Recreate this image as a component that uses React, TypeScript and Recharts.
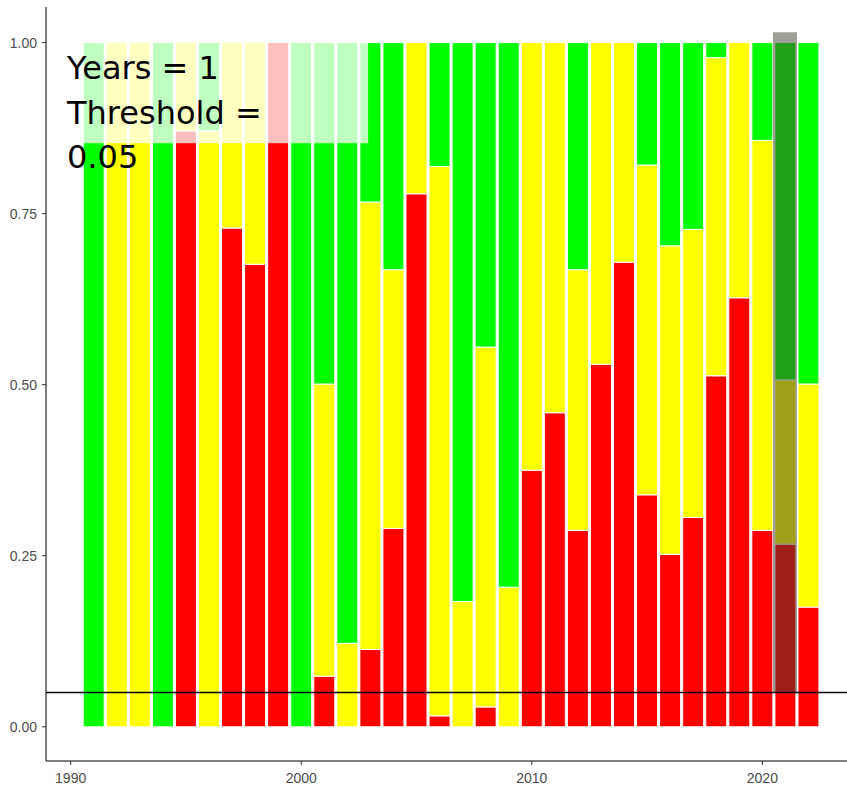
import React from 'react'
import {
  ComposedChart,
  Bar,
  XAxis,
  YAxis,
  ReferenceLine,
  ReferenceArea,
} from 'recharts'

const years = [
  1991, 1992, 1993, 1994, 1995, 1996, 1997, 1998, 1999, 2000, 2001, 2002, 2003, 2004, 2005, 2006,
  2007, 2008, 2009, 2010, 2011, 2012, 2013, 2014, 2015, 2016, 2017, 2018, 2019, 2020, 2021, 2022,
]

const redShare = [
  0, 0, 0, 0, 0.871, 0, 0.729, 0.676, 1, 0, 0.074, 0, 0.113, 0.29, 0.779, 0.016,
  0, 0.029, 0, 0.375, 0.459, 0.287, 0.53, 0.679, 0.339, 0.252, 0.306, 0.513, 0.627, 0.287, 0.267, 0.175,
]

const yellowShare = [
  0, 1, 1, 0, 0.129, 0.871, 0.271, 0.324, 0, 0, 0.427, 0.122, 0.654, 0.378, 0.221, 0.803,
  0.183, 0.526, 0.204, 0.625, 0.541, 0.381, 0.47, 0.321, 0.482, 0.451, 0.421, 0.465, 0.373, 0.57, 0.24, 0.326,
]

const greenShare = [
  1, 0, 0, 1, 0, 0.129, 0, 0, 0, 1, 0.499, 0.878, 0.233, 0.332, 0, 0.181,
  0.817, 0.445, 0.796, 0, 0, 0.332, 0, 0, 0.179, 0.297, 0.273, 0.022, 0, 0.143, 0.493, 0.499,
]

const xTicks = [1990, 2000, 2010, 2020]
const yTicks = [0, 0.25, 0.5, 0.75, 1]

const threshold = 0.05
const highlightYear = 2021
const annotationLines = ['Years = 1', 'Threshold =', '0.05']

const data = years.map((year, i) => ({
  year,
  red: redShare[i],
  yellow: yellowShare[i],
  green: greenShare[i],
}))

const W = 847
const H = 791
const margin = { top: 7, right: 0, bottom: 0, left: 0 }
const xDomain: [number, number] = [1988.93, 2023.67]
const yDomain: [number, number] = [-0.05, 1.052]

const tickStyle = { fill: '#4d4d4d', fontSize: 14, fontFamily: 'Arial, "Liberation Sans", sans-serif' }

export default function App() {
  return (
    <div style={{ position: 'absolute', left: 0, top: 0, width: W, height: H }}>
      <ComposedChart width={W} height={H} data={data} margin={margin}>
        <XAxis
          dataKey="year"
          type="number"
          domain={xDomain}
          allowDataOverflow
          ticks={xTicks}
          height={30}
          tick={tickStyle}
          tickSize={4}
          tickMargin={8}
          axisLine={{ stroke: '#000', strokeWidth: 1 }}
          tickLine={{ stroke: '#333' }}
        />
        <YAxis
          type="number"
          domain={yDomain}
          allowDataOverflow
          ticks={yTicks}
          width={46}
          tick={tickStyle}
          tickSize={4}
          tickMargin={5}
          tickFormatter={(v: number) => v.toFixed(2)}
          axisLine={{ stroke: '#000', strokeWidth: 1 }}
          tickLine={{ stroke: '#333' }}
        />
        <Bar dataKey="red" stackId="s" fill="#ff0000" stroke="#fff" strokeWidth={1} barSize={21} isAnimationActive={false} />
        <Bar dataKey="yellow" stackId="s" fill="#ffff00" stroke="#fff" strokeWidth={1} barSize={21} isAnimationActive={false} />
        <Bar dataKey="green" stackId="s" fill="#00ff00" stroke="#fff" strokeWidth={1} barSize={21} isAnimationActive={false} />
      </ComposedChart>

      {/* second chart on the same scales, on top, for the overlays */}
      <div style={{ position: 'absolute', left: 0, top: 0, pointerEvents: 'none' }}>
        <ComposedChart width={W} height={H} data={data} margin={margin}>
          <XAxis
            dataKey="year"
            type="number"
            domain={xDomain}
            allowDataOverflow
            ticks={xTicks}
            height={30}
            tick={false}
            tickLine={false}
            axisLine={false}
          />
          <YAxis
            type="number"
            domain={yDomain}
            allowDataOverflow
            ticks={yTicks}
            width={46}
            tick={false}
            tickLine={false}
            axisLine={false}
          />
          <ReferenceArea
            x1={1990.5}
            x2={2002.9}
            y1={0.853}
            y2={1}
            fill="#ffffff"
            fillOpacity={0.75}
            stroke="none"
          />
          <ReferenceLine y={threshold} stroke="#000" strokeWidth={1.5} />
          <ReferenceArea
            x1={highlightYear - 0.54}
            x2={highlightYear + 0.5}
            y1={threshold}
            y2={1.015}
            fill="#404030"
            fillOpacity={0.5}
            stroke="none"
          />
        </ComposedChart>
      </div>

      <div
        style={{
          position: 'absolute',
          left: 67,
          top: 46,
          fontFamily: 'Tahoma, "DejaVu Sans", Verdana, sans-serif',
          fontSize: 32,
          lineHeight: '44.5px',
          color: '#000',
          whiteSpace: 'pre',
        }}
      >
        {annotationLines.map((line) => (
          <div key={line}>{line}</div>
        ))}
      </div>
    </div>
  )
}
